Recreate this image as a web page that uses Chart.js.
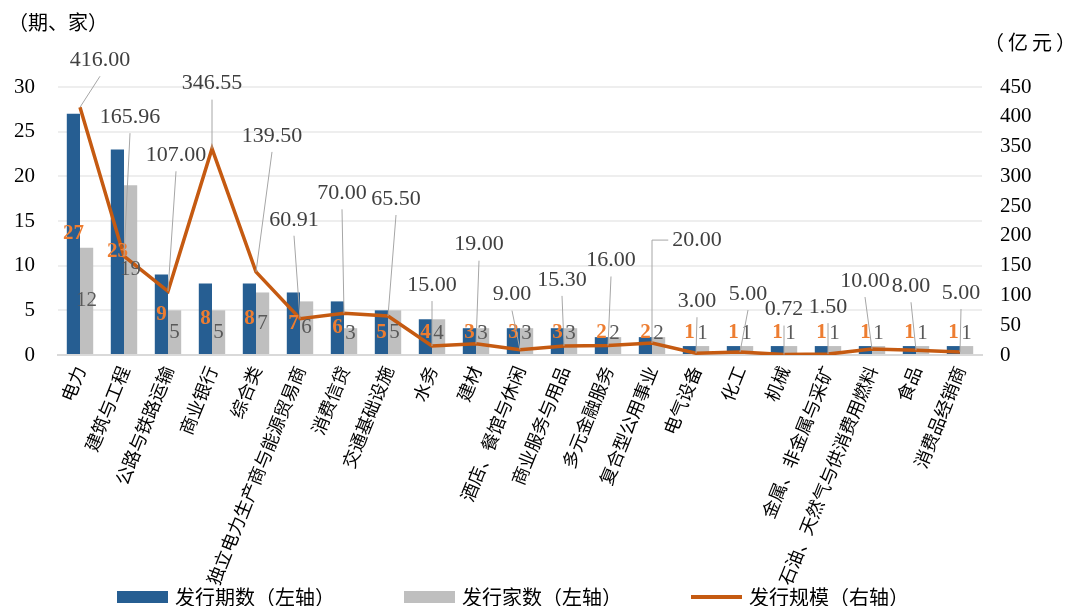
<!DOCTYPE html>
<html>

<head>
    <title>行业发行情况</title>
    <script src="https://cdn.jsdelivr.net/npm/chart.js"></script>
    <style>
        html, body {
            margin: 0;
            padding: 0;
            background: #ffffff;
        }

        #wrap {
            position: relative;
            width: 1066px;
            height: 606px;
        }
    </style>
</head>

<body>
    <div id="wrap">
        <canvas id="issueChart" width="1066" height="606"></canvas>
    </div>

    <script>
        // Categories (industries)
        const industries = ['电力', '建筑与工程', '公路与铁路运输', '商业银行', '综合类', '独立电力生产商与能源贸易商',
            '消费信贷', '交通基础设施', '水务', '建材', '酒店、餐馆与休闲', '商业服务与用品', '多元金融服务',
            '复合型公用事业', '电气设备', '化工', '机械', '金属、非金属与采矿', '石油、天然气与供消费用燃料',
            '食品', '消费品经销商'];

        // Number of issues (left axis)
        const issueCounts = [27, 23, 9, 8, 8, 7, 6, 5, 4, 3, 3, 3, 2, 2, 1, 1, 1, 1, 1, 1, 1];
        // Number of issuers (left axis)
        const issuerCounts = [12, 19, 5, 5, 7, 6, 3, 5, 4, 3, 3, 3, 2, 2, 1, 1, 1, 1, 1, 1, 1];
        // Issue size in 亿元 (right axis)
        const issueSizes = [416.00, 165.96, 107.00, 346.55, 139.50, 60.91, 70.00, 65.50, 15.00, 19.00, 9.00,
            15.30, 16.00, 20.00, 3.00, 5.00, 0.72, 1.50, 10.00, 8.00, 5.00];

        // Axis ticks
        const leftTicks = [0, 5, 10, 15, 20, 25, 30];
        const rightTicks = [0, 50, 100, 150, 200, 250, 300, 350, 400, 450];

        // Where each line label sits relative to its point (px), like the hand-placed labels
        const sizeLabelDx = [20, 6, 8, 0, 16, -6, -2, 8, 0, 3, -8, -2, 3, 45, 1, 8, 0, 0, -7, -5, 1];
        const sizeLabelDy = [-47, -139, -136, -65, -136, -99, -120, -117, -61, -99, -55, -66, -85, -103, -52, -58, -45, -47, -68, -64, -59];

        const BLUE = '#265E92';
        const GREY = '#BFBFBF';
        const LINE = '#C55A11';
        const SERIF = "'Liberation Serif', 'Noto Sans CJK SC', serif";
        const CJK = "'Noto Sans CJK SC', 'Liberation Serif', sans-serif";

        // Draws value labels, leader lines, axis titles and the legend
        const annotate = {
            id: 'annotate',
            afterDatasetsDraw(chart) {
                const ctx = chart.ctx;
                const yScale = chart.scales.y;
                const zeroY = yScale.getPixelForValue(0);
                ctx.save();
                ctx.textAlign = 'center';
                ctx.textBaseline = 'middle';

                // bar labels (centred in the bar, kept clear of the axis)
                const barStyles = [
                    { font: 'bold 21px ' + SERIF, color: '#ED7D31' },
                    { font: '21px ' + SERIF, color: '#595959' }
                ];
                [0, 1].forEach(di => {
                    const meta = chart.getDatasetMeta(di);
                    ctx.font = barStyles[di].font;
                    ctx.fillStyle = barStyles[di].color;
                    meta.data.forEach((bar, i) => {
                        const v = chart.data.datasets[di].data[i];
                        const cy = Math.min((bar.y + bar.base) / 2, zeroY - 22);
                        ctx.fillText(String(v), bar.x, cy);
                    });
                });

                // line labels with leader lines
                const lineMeta = chart.getDatasetMeta(2);
                ctx.font = '22px ' + SERIF;
                lineMeta.data.forEach((pt, i) => {
                    const lx = pt.x + sizeLabelDx[i];
                    const ly = pt.y + sizeLabelDy[i];
                    ctx.strokeStyle = '#A6A6A6';
                    ctx.lineWidth = 1;
                    ctx.beginPath();
                    if (Math.abs(sizeLabelDx[i]) > 30) {
                        const w = ctx.measureText(issueSizes[i].toFixed(2)).width;
                        ctx.moveTo(pt.x, pt.y);
                        ctx.lineTo(pt.x, ly);
                        ctx.lineTo(lx - w / 2 - 4, ly);
                    } else {
                        ctx.moveTo(pt.x, pt.y);
                        ctx.lineTo(lx, ly + 16);
                    }
                    ctx.stroke();
                    ctx.fillStyle = '#404040';
                    ctx.fillText(issueSizes[i].toFixed(2), lx, ly);
                });

                // axis titles
                ctx.fillStyle = '#000000';
                ctx.font = '20px ' + CJK;
                ctx.textAlign = 'left';
                ctx.fillText('（期、家）', chart.chartArea.left - 50, 22);
                if ('letterSpacing' in ctx) ctx.letterSpacing = '4px';
                ctx.fillText('（亿元）', chart.chartArea.right + 2, 42);
                if ('letterSpacing' in ctx) ctx.letterSpacing = '0px';

                // legend
                const legendY = 597;
                let x = chart.chartArea.left + 59;
                chart.data.datasets.forEach(ds => {
                    if (ds.type === 'line') {
                        ctx.strokeStyle = ds.borderColor;
                        ctx.lineWidth = 4;
                        ctx.beginPath();
                        ctx.moveTo(x, legendY);
                        ctx.lineTo(x + 51, legendY);
                        ctx.stroke();
                    } else {
                        ctx.fillStyle = ds.backgroundColor;
                        ctx.fillRect(x, legendY - 6, 51, 12);
                    }
                    ctx.fillStyle = '#000000';
                    ctx.font = '20px ' + CJK;
                    ctx.textAlign = 'left';
                    ctx.fillText(ds.label, x + 58, legendY);
                    x += 287;
                });
                ctx.restore();
            }
        };

        const config = {
            data: {
                labels: industries,
                datasets: [
                    {
                        type: 'bar',
                        label: '发行期数（左轴）',
                        data: issueCounts,
                        backgroundColor: BLUE,
                        yAxisID: 'y',
                        order: 1,
                        categoryPercentage: 0.6,
                        barPercentage: 1.0
                    },
                    {
                        type: 'bar',
                        label: '发行家数（左轴）',
                        data: issuerCounts,
                        backgroundColor: GREY,
                        yAxisID: 'y',
                        order: 1,
                        categoryPercentage: 0.6,
                        barPercentage: 1.0
                    },
                    {
                        type: 'line',
                        label: '发行规模（右轴）',
                        data: issueSizes,
                        borderColor: LINE,
                        backgroundColor: LINE,
                        borderWidth: 3.5,
                        pointRadius: 0,
                        tension: 0,
                        yAxisID: 'y1',
                        order: 0
                    }
                ]
            },
            options: {
                responsive: false,
                animation: false,
                layout: {
                    padding: { top: 87, left: 0, right: 0, bottom: 20 }
                },
                plugins: {
                    legend: { display: false },
                    tooltip: { enabled: false }
                },
                scales: {
                    x: {
                        grid: { display: false, drawTicks: false },
                        border: { display: true, color: '#D9D9D9', width: 2 },
                        ticks: {
                            color: '#000000',
                            font: { size: 18, family: CJK },
                            minRotation: 68,
                            maxRotation: 68,
                            autoSkip: false,
                            labelOffset: 0,
                            padding: 8
                        },
                        afterFit: s => { s.height = 231; }
                    },
                    y: {
                        position: 'left',
                        min: 0,
                        max: 30,
                        afterBuildTicks: s => { s.ticks = leftTicks.map(v => ({ value: v })); },
                        grid: {
                            drawTicks: false,
                            color: '#EEEEEE',
                            lineWidth: 2
                        },
                        border: { display: false },
                        ticks: {
                            color: '#000000',
                            font: { size: 21, family: SERIF },
                            padding: 23
                        },
                        afterFit: s => { s.width = 58; }
                    },
                    y1: {
                        position: 'right',
                        min: 0,
                        max: 450,
                        afterBuildTicks: s => { s.ticks = rightTicks.map(v => ({ value: v })); },
                        grid: { display: false, drawTicks: false },
                        border: { display: false },
                        ticks: {
                            color: '#000000',
                            font: { size: 21, family: SERIF },
                            padding: 18
                        },
                        afterFit: s => { s.width = 84; }
                    }
                }
            },
            plugins: [annotate]
        };

        new Chart(document.getElementById('issueChart').getContext('2d'), config);
    </script>
</body>

</html>
